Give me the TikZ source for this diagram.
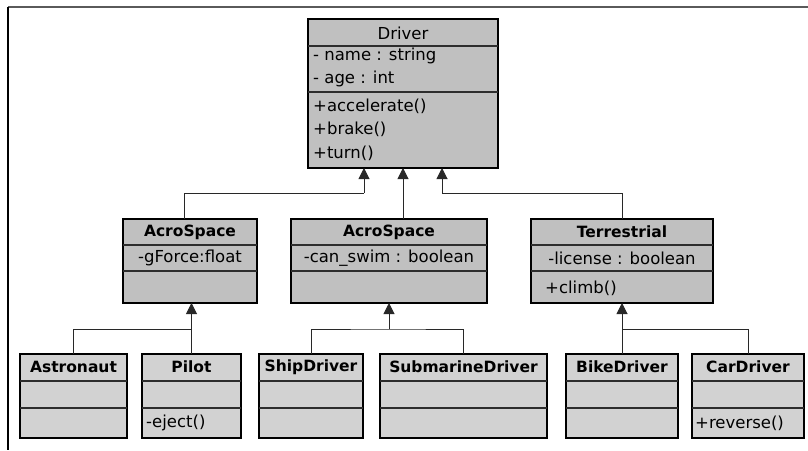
\documentclass[tikz,border=0pt]{standalone}
\usepackage{fontspec}
\setmainfont{DejaVu Sans}
\usetikzlibrary{arrows.meta,calc}
\definecolor{topgray}{RGB}{192,192,192}
\definecolor{lowgray}{RGB}{210,210,210}
\definecolor{sepgray}{RGB}{45,45,45}
\definecolor{framegray}{RGB}{90,90,90}
\definecolor{linkgray}{RGB}{40,40,40}
\begin{document}
\begin{tikzpicture}[x=1pt,y=-1pt,
  cls/.style={draw=black,line width=1.3pt,anchor=north west,inner sep=0pt,outer sep=0pt},
  upper/.style={cls,fill=topgray},
  lower/.style={cls,fill=lowgray},
  sepline/.style={draw=sepgray,line width=1.1pt},
  ttl/.style={font=\fontsize{15.5}{17}\selectfont\bfseries,inner sep=0pt},
  plain/.style={font=\fontsize{16.5}{18}\selectfont,inner sep=0pt},
  lft/.style={plain,anchor=west},
  link/.style={draw=linkgray,line width=1pt},
  inh/.style={link,-{Triangle[width=11pt,length=11pt]}}]
\useasboundingbox (0,0) rectangle (808,450);
% frame
\draw[framegray,line width=1.6pt] (8,7) -- (808,7);
\draw[black,line width=1.1pt] (8,7) -- (8,450);

% Driver
\node[upper,minimum width=190pt,minimum height=149pt] (driver) at (308,19) {};
\draw[sepline] (308,46) -- (498,46);
\draw[sepline] (308,92) -- (498,92);
\node[plain] (dt) at (403,33) {Driver};
\node[lft] (d1) at (313,56) {- name : string};
\node[lft] (d2) at (313,79) {- age : int};
\node[lft] (d3) at (313,106) {+accelerate()};
\node[lft] (d4) at (313,129) {+brake()};
\node[lft] (d5) at (313,153) {+turn()};

% middle row
\node[upper,minimum width=134pt,minimum height=84pt] (acroA) at (123,219) {};
\node[upper,minimum width=196pt,minimum height=84pt] (acroB) at (291,219) {};
\node[upper,minimum width=182pt,minimum height=84pt] (terr) at (531,219) {};
\foreach \a/\b in {123/257,291/487,531/713}{
  \draw[sepline] (\a,245) -- (\b,245);
  \draw[sepline] (\a,271) -- (\b,271);
}
\node[ttl] (acroAt) at (acroA.north |- 0,232) {AcroSpace};
\node[plain] (acroAa) at (acroA.north |- 0,258) {-gForce:float};
\node[ttl] (acroBt) at (acroB.north |- 0,232) {AcroSpace};
\node[plain] (acroBa) at (acroB.north |- 0,258) {-can\_swim : boolean};
\node[ttl] (terrt) at (terr.north |- 0,232) {Terrestrial};
\node[plain] (terra) at (terr.north |- 0,258) {-license : boolean};
\node[lft] (terrm) at (545,288) {+climb()};

% bottom row
\node[lower,minimum width=107pt,minimum height=84pt] (astro) at (20,354) {};
\node[lower,minimum width=99pt,minimum height=84pt] (pilot) at (142,354) {};
\node[lower,minimum width=104pt,minimum height=84pt] (ship) at (259,354) {};
\node[lower,minimum width=167pt,minimum height=84pt] (sub) at (380,354) {};
\node[lower,minimum width=112pt,minimum height=84pt] (bike) at (566,354) {};
\node[lower,minimum width=112pt,minimum height=84pt] (car) at (692,354) {};
\foreach \a/\b in {20/127,142/241,259/363,380/547,566/678,692/804}{
  \draw[sepline] (\a,381) -- (\b,381);
  \draw[sepline] (\a,408) -- (\b,408);
}
\node[ttl] (astrot) at (astro.north |- 0,367) {Astronaut};
\node[ttl] (pilott) at (pilot.north |- 0,367) {Pilot};
\node[ttl] (shipt) at (ship.north |- 0,367) {ShipDriver};
\node[ttl] (subt) at (sub.north |- 0,367) {SubmarineDriver};
\node[ttl] (biket) at (bike.north |- 0,367) {BikeDriver};
\node[ttl] (cart) at (car.north |- 0,367) {CarDriver};
\node[lft] (pilotm) at (146,423) {-eject()};
\node[lft] (carm) at (695,423) {+reverse()};

% connectors to Driver
\coordinate (dA) at ($(driver.south)+(-39,0)$);
\coordinate (dC) at ($(driver.south)+(39,0)$);
\draw[link] ($(acroA.north)+(-6,0)$) |- ($(dA)+(0,25)$);
\draw[inh] ($(dA)+(0,25)$) -- (dA);
\draw[inh] (driver.south |- acroB.north) -- (driver.south);
\draw[link] (terr.north) |- ($(dC)+(0,25)$);
\draw[inh] ($(dC)+(0,25)$) -- (dC);

% connectors bottom
\coordinate (jA) at ($(pilot.north)+(0,-25)$);
\draw[link] (astro.north) |- (jA) -- (pilot.north);
\draw[inh] (jA) -- (jA |- acroA.south);
\coordinate (jB) at ($(acroB.south)+(0,26)$);
\draw[link] (ship.north) |- (jB) -| (sub.north);
\draw[inh] (jB) -- (acroB.south);
\coordinate (jC) at ($(terr.south)+(0,26)$);
\draw[link] (bike.north) |- (jC) -| (car.north);
\draw[inh] (jC) -- (terr.south);
\end{tikzpicture}
\end{document}
